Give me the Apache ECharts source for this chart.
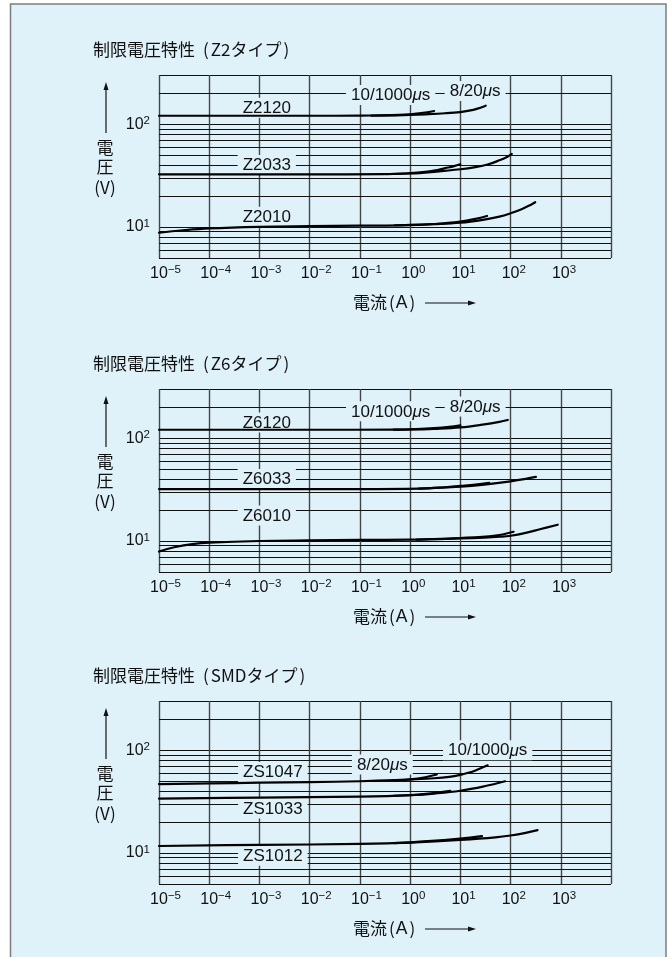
<!DOCTYPE html>
<html>
<head>
<meta charset="utf-8">
<script src="https://cdn.jsdelivr.net/npm/echarts@6/dist/echarts.min.js"></script>
<style>
  html, body { margin: 0; padding: 0; background: #ffffff; }
  #chart { width: 672px; height: 957px; }
</style>
</head>
<body>
<div id="chart"></div>
<script>
// ---- axes ---------------------------------------------------------------
const currentRange = [1e-5, 1e4];          // A (log)
const voltageRange = [5, 300];             // V (log)
const xTickExponents = [-5, -4, -3, -2, -1, 0, 1, 2, 3];
const yTickExponents = [1, 2];
const minorVoltageLines = [6, 7, 8, 9, 20, 30, 40, 50, 60, 70, 80, 90, 200];

const chartTitles = ['制限電圧特性（Z2タイプ）', '制限電圧特性（Z6タイプ）', '制限電圧特性（SMDタイプ）'];
const yAxisName = ['電', '圧', '(V)'];
const xAxisName = '電流（A）';

// ---- clamping voltage curves: [current A, voltage V] --------------------
// Z2 type
const z2120_10_1000 = [[1e-5, 120.5], [1e-2, 120.5], [0.1, 120.9], [0.3, 121.8], [0.6, 123], [1, 124.6], [1.5, 127], [2.2, 130.3], [3, 134]];
const z2120_8_20    = [[0.17, 120.8], [0.5, 121.8], [1, 122.8], [2, 124.5], [5, 127.5], [10, 131], [15, 135], [22, 141.5], [32, 151]];
const z2033_10_1000 = [[1e-5, 32.5], [1e-2, 32.5], [0.3, 32.7], [1, 33.4], [2, 34.3], [3, 35.3], [5, 37.3], [7.5, 39], [10, 40.7]];
const z2033_8_20    = [[0.34, 32.7], [1, 33.1], [3, 34.4], [10, 36.4], [20, 38.2], [35, 40.5], [60, 44.5], [85, 48], [106, 51.3]];
const z2010_10_1000 = [[1e-5, 8.8], [3e-5, 9.3], [1e-4, 9.7], [1e-3, 10.05], [1e-2, 10.2], [0.1, 10.3], [1, 10.45], [3, 10.7], [10, 11.3], [20, 12], [34, 12.8]];
const z2010_8_20    = [[0.5, 10.4], [1, 10.5], [3, 10.65], [10, 11.0], [30, 11.8], [60, 12.6], [100, 13.6], [170, 15], [250, 16.4], [310, 17.4]];

// Z6 type
const z6120_10_1000 = [[1e-5, 120.5], [1e-2, 120.5], [0.5, 120.8], [1, 121.5], [3, 125], [6, 128.5], [10, 133]];
const z6120_8_20    = [[0.47, 120.9], [1, 121.2], [3, 123], [10, 127], [30, 136], [60, 144], [88, 150]];
const z6033_10_1000 = [[1e-5, 32], [0.1, 32], [1.5, 32.3], [5, 33.3], [10, 34.3], [20, 35.4], [37.5, 36.8]];
const z6033_8_20    = [[1.5, 32.3], [10, 33.7], [30, 35.3], [100, 38], [200, 40.2], [320, 42]];
const z6010_10_1000 = [[1e-5, 7.9], [2e-5, 8.7], [5e-5, 9.4], [1e-4, 9.65], [1e-3, 10], [1e-2, 10.15], [0.1, 10.25], [1, 10.3], [10, 10.7], [50, 11.3], [115, 12.3]];
const z6010_8_20    = [[1.35, 10.35], [10, 10.6], [30, 10.8], [60, 11], [100, 11.25], [200, 12], [400, 13.1], [870, 14.4]];

// SMD type
const zs1047_8_20    = [[1e-5, 46.8], [1e-4, 47.5], [1e-3, 48.2], [1e-2, 48.9], [0.1, 49.8], [0.5, 51], [1, 52], [2, 54.5], [3.4, 57.9]];
const zs1047_10_1000 = [[0.47, 51], [1, 51.8], [3, 53.3], [6, 55], [10, 57.5], [15, 60.5], [20, 63.5], [35, 71.2]];
const zs1033_8_20    = [[1e-5, 33.8], [1e-3, 34.6], [0.1, 35.3], [1, 36.5], [3, 38.3], [6.3, 40.1]];
const zs1033_10_1000 = [[0.47, 36], [1, 36.4], [3, 37.8], [10, 40.3], [30, 44.5], [78, 49.8]];
const zs1012_8_20    = [[1e-5, 11.7], [1e-3, 12], [0.1, 12.25], [1, 12.7], [10, 13.8], [27, 14.6]];
const zs1012_10_1000 = [[0.47, 12.5], [1, 12.6], [10, 13.4], [50, 14.2], [100, 14.8], [200, 15.7], [345, 16.7]];

const panelCurves = [
  [z2120_10_1000, z2120_8_20, z2033_10_1000, z2033_8_20, z2010_10_1000, z2010_8_20],
  [z6120_10_1000, z6120_8_20, z6033_10_1000, z6033_8_20, z6010_10_1000, z6010_8_20],
  [zs1047_8_20, zs1047_10_1000, zs1033_8_20, zs1033_10_1000, zs1012_8_20, zs1012_10_1000]
];

// ---- annotation texts ---------------------------------------------------
const z2Names = ['Z2120', 'Z2033', 'Z2010'];
const z6Names = ['Z6120', 'Z6033', 'Z6010'];
const zsNames = ['ZS1047', 'ZS1033', 'ZS1012'];
const pulseNames = ['10/1000μs', '8/20μs'];

// where each annotation sits, in [current, voltage]
const annotationAnchors = [
  [[1.4e-3, 144], [1.4e-3, 40.1], [1.4e-3, 12.6], [0.41, 192], [19.7, 210]],
  [[1.4e-3, 142], [1.4e-3, 40.1], [1.4e-3, 17.7], [0.41, 182], [19.7, 203]],
  [[1.85e-3, 61.4], [1.85e-3, 27.1], [1.85e-3, 9.4], [35, 99.6], [0.28, 72.4]]
];
const annotationTexts = [
  z2Names.concat(pulseNames),
  z6Names.concat(pulseNames),
  zsNames.concat(pulseNames)
];

// ---- styling / layout ---------------------------------------------------
const FONT_LATIN = '"Liberation Sans", Arial, sans-serif';
const FONT_JP = '"Noto Sans CJK JP", sans-serif';
const INK = '#111111';
const PANEL_BG = '#dff2fa';
const GRID_LEFT = 159, GRID_RIGHT = 61, GRID_HEIGHT = 183;
const GRID_TOPS = [75, 389, 701];

function expText(e) { return e < 0 ? '−' + (-e) : String(e); }

const tickRich = {
  b: { fontSize: 16, fontFamily: FONT_LATIN, color: INK, lineHeight: 19, verticalAlign: 'middle' },
  s: { fontSize: 11.5, fontFamily: FONT_LATIN, color: INK, lineHeight: 13, verticalAlign: 'top' },
  p: { fontSize: 11.5, fontFamily: FONT_LATIN, color: 'rgba(0,0,0,0)', lineHeight: 13, verticalAlign: 'top' }
};

// Japanese captions: full-width brackets rendered as padded half-width ones
const captionRich = {
  k: { fontSize: 17, fontFamily: FONT_JP, fill: INK, lineHeight: 22 },
  o: { fontSize: 17, fontFamily: FONT_JP, fill: INK, lineHeight: 22, padding: [0, 2, 0, 8] },
  c: { fontSize: 17, fontFamily: FONT_JP, fill: INK, lineHeight: 22, padding: [0, 8, 0, 2] },
  no: { fontSize: 17, fontFamily: FONT_JP, fill: INK, lineHeight: 22, padding: [0, 1, 0, 2] },
  nc: { fontSize: 17, fontFamily: FONT_JP, fill: INK, lineHeight: 22, padding: [0, 0, 0, 2] },
  a: { fontSize: 17.5, fontFamily: FONT_LATIN, fill: INK, lineHeight: 22 }
};
function captionMarkup(text, tight) {
  const m = text.match(/^(.*)（(.*)）$/);
  if (!m) return '{k|' + text + '}';
  if (tight) return '{k|' + m[1] + '}{no|(}{a|' + m[2] + '}{nc|)}';
  return '{k|' + m[1] + '}{o|(}{k|' + m[2] + '}{c|)}';
}

function decadeOf(v) {
  const e = Math.round(Math.log10(v));
  return Math.abs(v / Math.pow(10, e) - 1) < 1e-6 ? e : null;
}

const grids = [], xAxes = [], yAxes = [], series = [], graphics = [];

graphics.push({
  type: 'rect', z: -10, silent: true,
  shape: { x: 10.5, y: 4, width: 655.5, height: 980 },
  style: { fill: PANEL_BG, stroke: '#7d7d7d', lineWidth: 1.5 }
});

GRID_TOPS.forEach((top, i) => {
  grids.push({ left: GRID_LEFT, right: GRID_RIGHT, top: top, height: GRID_HEIGHT, containLabel: false, outerBoundsMode: 'none', show: false });

  xAxes.push({
    type: 'log', logBase: 10, gridIndex: i, min: currentRange[0], max: currentRange[1],
    axisLine: { show: false }, axisTick: { show: false },
    splitLine: { show: true, lineStyle: { color: '#454545', width: 1.4 } },
    axisLabel: {
      margin: 6, fontSize: 16, fontFamily: FONT_LATIN, color: INK,
      formatter: v => {
        const e = decadeOf(v);
        if (e === null || xTickExponents.indexOf(e) < 0) return '';
        const t = expText(e);
        return '{p|' + t + '}{b|10}{s|' + t + '}';
      },
      rich: tickRich
    }
  });

  yAxes.push({
    type: 'log', logBase: 10, gridIndex: i, min: voltageRange[0], max: voltageRange[1],
    axisLine: { show: false }, axisTick: { show: false },
    splitLine: { show: true, lineStyle: { color: INK, width: 1.2 } },
    axisLabel: {
      margin: 9, fontSize: 16, fontFamily: FONT_LATIN, color: INK,
      formatter: v => {
        const e = decadeOf(v);
        if (e === null || yTickExponents.indexOf(e) < 0) return '';
        return '{b|10}{s|' + expText(e) + '}';
      },
      rich: tickRich
    }
  });

  // curves
  panelCurves[i].forEach((curve, k) => {
    const s = {
      type: 'line', xAxisIndex: i, yAxisIndex: i, data: curve,
      smooth: 0.4, showSymbol: false, symbol: 'none',
      silent: true, animation: false, z: 10,
      lineStyle: { color: '#000000', width: 2.2, cap: 'round', join: 'round' }
    };
    if (k === 0) {
      // intermediate log grid lines (2..9 × decade)
      s.markLine = {
        silent: true, animation: false, z: 1, symbol: ['none', 'none'],
        label: { show: false }, emphasis: { disabled: true },
        lineStyle: { color: INK, width: 1, type: 'solid' },
        data: minorVoltageLines.map(v => ({ yAxis: v }))
      };
    }
    series.push(s);
  });

  // curve annotations with boxes that mask the grid behind them
  series.push({
    type: 'scatter', xAxisIndex: i, yAxisIndex: i, symbolSize: 0, silent: true, animation: false, z: 6,
    itemStyle: { opacity: 1 },
    data: annotationAnchors[i].map((a, k) => ({ value: a, name: annotationTexts[i][k] })),
    label: {
      show: true, position: 'inside', opacity: 1,
      formatter: p => p.name.replace('μ', '{mu|μ}'),
      color: INK, fontSize: 17, fontFamily: FONT_LATIN, lineHeight: 19,
      backgroundColor: PANEL_BG, padding: [1, 5, 0, 5],
      rich: { mu: { fontSize: 17, fontFamily: FONT_LATIN, fontStyle: 'italic', color: INK, lineHeight: 19 } }
    }
  });

  // panel title
  graphics.push({
    type: 'text', x: 93, y: top - 25, silent: true,
    style: { text: captionMarkup(chartTitles[i], false), rich: captionRich, fill: INK,
      font: '17px ' + FONT_JP, verticalAlign: 'middle', align: 'left' }
  });

  // vertical axis name with arrow
  graphics.push({ type: 'line', silent: true, shape: { x1: 106, y1: top + 58, x2: 106, y2: top + 14 }, style: { stroke: INK, lineWidth: 1.2 } });
  graphics.push({ type: 'polygon', silent: true, shape: { points: [[106, top + 7], [103.5, top + 15], [108.5, top + 15]] }, style: { fill: INK } });
  [73, 92].forEach((dy, k) => {
    graphics.push({ type: 'text', x: 105, y: top + dy, silent: true,
      style: { text: yAxisName[k], fill: INK, font: '17px ' + FONT_JP, align: 'center', verticalAlign: 'middle' } });
  });
  graphics.push({ type: 'text', x: 105, y: top + 113, silent: true,
    style: { text: yAxisName[2], fill: INK, font: '17px ' + FONT_JP, align: 'center', verticalAlign: 'middle' } });

  // horizontal axis name with arrow
  const ny = top + GRID_HEIGHT + 45;
  graphics.push({ type: 'text', x: 353, y: ny, silent: true,
    style: { text: captionMarkup(xAxisName, true), rich: captionRich, fill: INK,
      font: '17px ' + FONT_JP, align: 'left', verticalAlign: 'middle' } });
  graphics.push({ type: 'line', silent: true, shape: { x1: 425, y1: ny, x2: 469, y2: ny }, style: { stroke: INK, lineWidth: 1.2 } });
  graphics.push({ type: 'polygon', silent: true, shape: { points: [[476, ny], [468, ny - 2.5], [468, ny + 2.5]] }, style: { fill: INK } });
});

const chart = echarts.init(document.getElementById('chart'), null, { renderer: 'canvas' });
chart.setOption({
  backgroundColor: '#ffffff',
  animation: false,
  grid: grids,
  xAxis: xAxes,
  yAxis: yAxes,
  series: series,
  graphic: graphics
});
</script>
</body>
</html>
